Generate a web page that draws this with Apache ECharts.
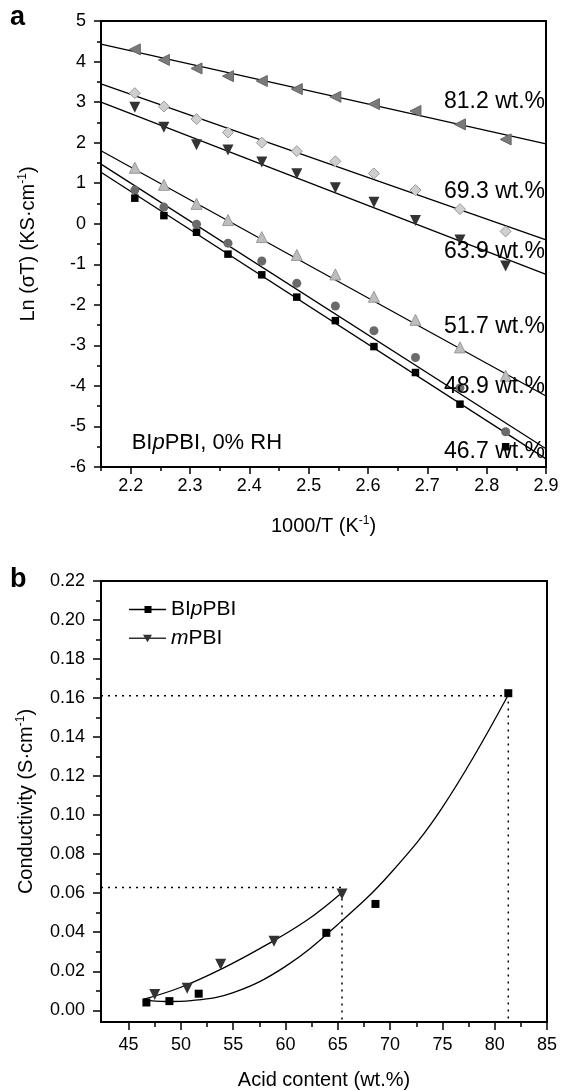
<!DOCTYPE html>
<html>
<head>
<meta charset="utf-8">
<script src="https://cdn.jsdelivr.net/npm/echarts@6/dist/echarts.min.js"></script>
<style>
html,body{margin:0;padding:0;background:#fff;}
#chart{width:562px;height:1091px;}
</style>
</head>
<body>
<div id="chart"></div>
<script>
// ---------- Panel a data ----------
const tempX = [2.207, 2.256, 2.311, 2.364, 2.421, 2.480, 2.545, 2.610, 2.680, 2.755, 2.832];
const ln812 = [4.30, 4.04, 3.83, 3.64, 3.52, 3.32, 3.13, 2.95, 2.78, 2.45, 2.08];
const ln693 = [3.22, 2.89, 2.58, 2.25, 2.00, 1.79, 1.54, 1.24, 0.83, 0.36, -0.19];
const ln639 = [2.87, 2.38, 1.95, 1.82, 1.52, 1.23, 0.89, 0.53, 0.08, -0.40, -1.04];
const ln517 = [1.38, 0.96, 0.49, 0.09, -0.33, -0.77, -1.25, -1.80, -2.37, -3.05, -3.75];
const ln489 = [0.83, 0.41, -0.01, -0.48, -0.92, -1.47, -2.03, -2.64, -3.30, -4.05, -5.13];
const ln467 = [0.63, 0.20, -0.21, -0.75, -1.26, -1.81, -2.39, -3.03, -3.67, -4.45, -5.50];
// fitted lines, end values read at x = 2.15 and x = 2.9
const fitX = [2.15, 2.9];
const fit812 = [4.43, 1.97];
const fit693 = [3.45, -0.40];
const fit639 = [3.00, -1.25];
const fit517 = [1.80, -4.25];
const fit489 = [1.47, -5.55];
const fit467 = [1.27, -5.80];
const seriesLabelsA = ['81.2 wt.%', '69.3 wt.%', '63.9 wt.%', '51.7 wt.%', '48.9 wt.%', '46.7 wt.%'];
const labelYA = [3.0, 0.79, -0.70, -2.54, -4.03, -5.62];
const topXTicks = [2.2, 2.3, 2.4, 2.5, 2.6, 2.7, 2.8, 2.9];
const topXMinor = [2.15, 2.25, 2.35, 2.45, 2.55, 2.65, 2.75, 2.85];
const topYMinor = [-5.5, -4.5, -3.5, -2.5, -1.5, -0.5, 0.5, 1.5, 2.5, 3.5, 4.5];

// ---------- Panel b data ----------
const bipX = [46.7, 48.9, 51.7, 63.9, 68.6, 81.3];
const bipY = [0.0040, 0.0047, 0.0085, 0.0397, 0.0545, 0.1625];
const mpX = [47.5, 50.6, 53.8, 58.9, 65.4];
const mpY = [0.0081, 0.0113, 0.0236, 0.0354, 0.0596];
const bipCurveX = [46.4, 48.5, 51, 55, 60, 65, 70, 75, 81.25];
const bipCurveY = [0.0052, 0.0045, 0.0050, 0.0090, 0.0225, 0.0440, 0.0700, 0.1040, 0.1612];
const mpCurveX = [46.4, 50, 54, 58, 62, 65.3];
const mpCurveY = [0.0056, 0.0118, 0.0215, 0.0330, 0.0460, 0.0599];
const guideHighX = [42.36, 81.3, 81.3];
const guideHighY = [0.1612, 0.1612, -0.006];
const guideLowX = [42.36, 65.4, 65.4];
const guideLowY = [0.0629, 0.0629, -0.006];
const botXTicks = [45, 50, 55, 60, 65, 70, 75, 80, 85];
const botXMinor = [47.5, 52.5, 57.5, 62.5, 67.5, 72.5, 77.5, 82.5];
const botYTicks = [0, 0.02, 0.04, 0.06, 0.08, 0.10, 0.12, 0.14, 0.16, 0.18, 0.20, 0.22];
const botYMinor = [0.01, 0.03, 0.05, 0.07, 0.09, 0.11, 0.13, 0.15, 0.17, 0.19, 0.21];

const FONT = 'Liberation Sans, Arial, Helvetica, sans-serif';
const zip = (xs, ys) => xs.map((x, i) => [x, ys[i]]);

const chart = echarts.init(document.getElementById('chart'), null, {renderer: 'canvas'});

function mainAxis(grid, min, max, pos, opts) {
  return Object.assign({
    type: 'value', gridIndex: grid, min: min, max: max, position: pos,
    axisLine: {show: true, onZero: false, lineStyle: {color: '#000', width: 2}},
    splitLine: {show: false},
    axisLabel: {color: '#000', fontFamily: FONT, fontSize: 18},
    axisTick: {show: true, inside: false, length: 7, lineStyle: {color: '#000', width: 1.5}},
    nameTextStyle: {color: '#000', fontFamily: FONT, fontSize: 20,
      rich: {sup: {fontSize: 12, verticalAlign: 'top', padding: [0, 0, 10, 0], fontFamily: FONT, color: '#000'}}}
  }, opts);
}
function minorAxis(grid, min, max, pos, values, len) {
  return {
    type: 'value', gridIndex: grid, min: min, max: max, position: pos, offset: 0,
    axisLine: {show: false, onZero: false}, splitLine: {show: false},
    axisLabel: {show: false, customValues: values},
    axisTick: {show: true, inside: false, length: len, customValues: values, lineStyle: {color: '#000', width: 1.5}}
  };
}

const pointSeries = (name, data, symbol, size, color, border, rotate) => ({
  name: name, type: 'scatter', xAxisIndex: 0, yAxisIndex: 0,
  data: zip(tempX, data), symbol: symbol, symbolSize: size, symbolRotate: rotate || 0,
  itemStyle: {color: color, borderColor: border, borderWidth: border ? 1 : 0, opacity: 1},
  z: 3, silent: true
});
const fitLine = (data) => ({
  type: 'line', xAxisIndex: 0, yAxisIndex: 0, data: zip(fitX, data),
  symbol: 'none', lineStyle: {color: '#000', width: 1.3}, z: 2, silent: true
});

const option = {
  animation: false,
  backgroundColor: '#fff',
  textStyle: {fontFamily: FONT},
  grid: [
    {left: 101, top: 21, width: 445, height: 446, show: true, borderColor: '#000', borderWidth: 2, backgroundColor: 'transparent'},
    {left: 101, top: 581, width: 446, height: 446, show: true, borderColor: '#000', borderWidth: 2, backgroundColor: 'transparent'}
  ],
  xAxis: [
    mainAxis(0, 2.15, 2.9, 'bottom', {
      name: '1000/T (K{sup|-1})', nameLocation: 'middle', nameGap: 48,
      axisLabel: {color: '#000', fontFamily: FONT, fontSize: 18, margin: 10, customValues: topXTicks, formatter: v => v.toFixed(1)},
      axisTick: {show: true, inside: false, length: 7, customValues: topXTicks, lineStyle: {color: '#000', width: 1.5}}
    }),
    minorAxis(0, 2.15, 2.9, 'bottom', topXMinor, 4),
    mainAxis(1, 42.36, 85, 'bottom', {
      name: 'Acid content (wt.%)', nameLocation: 'middle', nameGap: 48,
      axisLabel: {color: '#000', fontFamily: FONT, fontSize: 18, margin: 14, customValues: botXTicks},
      axisTick: {show: true, inside: false, length: 8, customValues: botXTicks, lineStyle: {color: '#000', width: 1.5}}
    }),
    minorAxis(1, 42.36, 85, 'bottom', botXMinor, 5)
  ],
  yAxis: [
    mainAxis(0, -6, 5, 'left', {
      interval: 1,
      name: 'Ln (σT) (KS·cm{sup|-1})', nameLocation: 'middle', nameGap: 62, nameRotate: 90,
      axisLabel: {color: '#000', fontFamily: FONT, fontSize: 18, margin: 15}
    }),
    minorAxis(0, -6, 5, 'left', topYMinor, 4),
    mainAxis(1, -0.006, 0.22, 'left', {
      name: 'Conductivity (S·cm{sup|-1})', nameLocation: 'middle', nameGap: 64, nameRotate: 90,
      axisLabel: {color: '#000', fontFamily: FONT, fontSize: 18, margin: 16, customValues: botYTicks, formatter: v => v.toFixed(2)},
      axisTick: {show: true, inside: false, length: 8, customValues: botYTicks, lineStyle: {color: '#000', width: 1.5}}
    }),
    minorAxis(1, -0.006, 0.22, 'left', botYMinor, 5)
  ],
  legend: {
    left: 124, top: 594, orient: 'vertical', itemGap: 8, itemWidth: 37, itemHeight: 10,
    selectedMode: false,
    textStyle: {color: '#000', fontFamily: FONT, fontSize: 21,
      rich: {n: {fontFamily: FONT, fontSize: 21, color: '#000'}, i: {fontFamily: FONT, fontSize: 21, fontStyle: 'italic', color: '#000'}}},
    formatter: name => name === 'BIpPBI' ? '{n|BI}{i|p}{n|PBI}' : '{i|m}{n|PBI}',
    data: [
      {name: 'BIpPBI', icon: 'path://M0,4.3h37v1.4h-37z M15.5,1.5h7v7h-7z', itemStyle: {color: '#000'}},
      {name: 'mPBI', icon: 'path://M0,4.3h37v1.4h-37z M14,1.5h9l-4.5,7.5z', itemStyle: {color: '#333'}}
    ]
  },
  graphic: [
    {type: 'text', left: 10, top: 4, style: {text: 'a', font: 'bold 27px ' + FONT, fill: '#000'}},
    {type: 'text', left: 10, top: 566, style: {text: 'b', font: 'bold 27px ' + FONT, fill: '#000'}}
  ],
  series: [
    fitLine(fit812), fitLine(fit693), fitLine(fit639), fitLine(fit517), fitLine(fit489), fitLine(fit467),
    pointSeries('81.2 wt.%', ln812, 'triangle', 11, '#7a7a7a', '#666', 90),
    pointSeries('69.3 wt.%', ln693, 'diamond', 11, '#cfcfcf', '#9a9a9a'),
    pointSeries('63.9 wt.%', ln639, 'triangle', 11, '#333333', null, 180),
    pointSeries('51.7 wt.%', ln517, 'triangle', 11, '#bdbdbd', '#999'),
    pointSeries('48.9 wt.%', ln489, 'circle', 9, '#6a6a6a', null),
    pointSeries('46.7 wt.%', ln467, 'rect', 7.5, '#000', null),
    {
      type: 'scatter', xAxisIndex: 0, yAxisIndex: 0, symbolSize: 0, silent: true, z: 5,
      itemStyle: {opacity: 1},
      data: seriesLabelsA.map((t, i) => ({name: t, value: [2.9, labelYA[i]]})),
      label: {show: true, position: 'left', distance: 1, formatter: '{b}', color: '#000', opacity: 1, fontFamily: FONT, fontSize: 23}
    },
    {
      type: 'scatter', xAxisIndex: 0, yAxisIndex: 0, symbolSize: 0, silent: true, z: 5,
      itemStyle: {opacity: 1},
      data: [{name: 'BIpPBI, 0% RH', value: [2.2017, -5.41]}],
      label: {show: true, position: 'right', distance: 0, color: '#000', opacity: 1, fontFamily: FONT, fontSize: 22,
        formatter: '{n|BI}{i|p}{n|PBI, 0% RH}',
        rich: {n: {fontFamily: FONT, fontSize: 22, color: '#000'}, i: {fontFamily: FONT, fontSize: 22, fontStyle: 'italic', color: '#000'}}}
    },
    // panel b
    {
      type: 'line', xAxisIndex: 2, yAxisIndex: 2, data: zip(guideHighX, guideHighY), symbol: 'none', silent: true,
      lineStyle: {color: '#000', width: 1.5, type: [2, 5]}, z: 1
    },
    {
      type: 'line', xAxisIndex: 2, yAxisIndex: 2, data: zip(guideLowX, guideLowY), symbol: 'none', silent: true,
      lineStyle: {color: '#000', width: 1.5, type: [2, 5]}, z: 1
    },
    {
      type: 'line', xAxisIndex: 2, yAxisIndex: 2, data: zip(bipCurveX, bipCurveY), symbol: 'none', smooth: 0.4, silent: true,
      lineStyle: {color: '#000', width: 1.3}, z: 2
    },
    {
      type: 'line', xAxisIndex: 2, yAxisIndex: 2, data: zip(mpCurveX, mpCurveY), symbol: 'none', smooth: 0.4, silent: true,
      lineStyle: {color: '#000', width: 1.3}, z: 2
    },
    {
      name: 'BIpPBI', type: 'scatter', xAxisIndex: 2, yAxisIndex: 2, data: zip(bipX, bipY),
      symbol: 'rect', symbolSize: 8, itemStyle: {color: '#000', opacity: 1}, z: 3, silent: true
    },
    {
      name: 'mPBI', type: 'scatter', xAxisIndex: 2, yAxisIndex: 2, data: zip(mpX, mpY),
      symbol: 'triangle', symbolRotate: 180, symbolSize: 11, itemStyle: {color: '#333', opacity: 1}, z: 3, silent: true
    }
  ]
};
chart.setOption(option);
</script>
</body>
</html>
